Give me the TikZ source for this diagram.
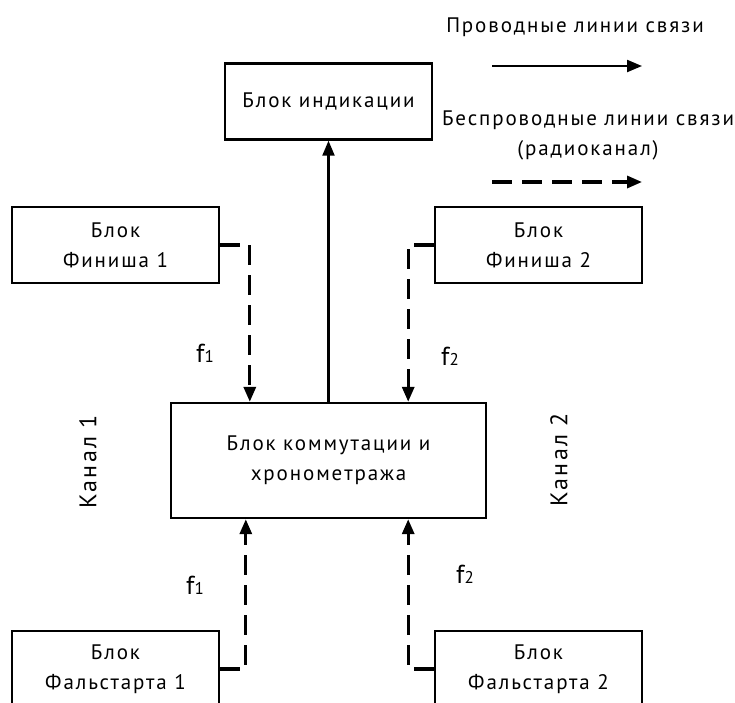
\documentclass[tikz,border=0pt]{standalone}
\usepackage{fontspec}
\setmainfont[LetterSpace=9]{PT Sans}
\usetikzlibrary{arrows.meta}

\newcommand{\freq}[1]{f{\fontsize{17}{17}\selectfont #1}}

\begin{document}
\begin{tikzpicture}[x=1pt, y=-1pt,
    every node/.style={font=\fontsize{21}{30}\selectfont, align=center},
    block/.style={draw, line width=2.4pt, minimum width=207pt, minimum height=76pt},
    wire/.style={line width=2.2pt, -{Triangle[length=15pt, width=12pt]}},
    radio/.style={wire, line width=3.2pt, dash pattern=on 20pt off 10pt},
    chan/.style={rotate=90, font=\fontsize{24}{24}\selectfont},
    flabel/.style={font=\fontsize{26}{26}\selectfont}]

    \useasboundingbox (0, 0) rectangle (735, 702);

    % Blocks
    \node[block] (ind) at (328.5, 101.5) {Блок индикации};
    \node[block] (fin1) at (115.5, 245) {Блок\\Финиша 1};
    \node[block] (fin2) at (538.5, 245) {Блок\\Финиша 2};
    \node[block, minimum width=315pt, minimum height=115pt] (comm) at (328.5, 460.5) {Блок коммутации и\\хронометража};
    \node[block] (fals1) at (115.5, 669) {Блок\\Фальстарта 1};
    \node[block] (fals2) at (538.5, 669) {Блок\\Фальстарта 2};

    % Links
    \draw[wire] (comm.north) -- (ind.south); % wired
    \draw[radio] (fin1.east) -| ([xshift=80pt]comm.north west);
    \draw[radio] (fin2.west) -| ([xshift=-79pt]comm.north east);
    \draw[radio] (fals1.east) -| ([xshift=76pt]comm.south west);
    \draw[radio] (fals2.west) -| ([xshift=-79pt]comm.south east);

    % Frequencies
    \node[flabel] (f1a) at (205, 353) {\freq{1}};
    \node[flabel] (f2a) at (450, 356) {\freq{2}};
    \node[flabel] (f1b) at (195, 585) {\freq{1}};
    \node[flabel] (f2b) at (465, 574) {\freq{2}};

    % Channels
    \node[chan] (chan1) at (88, 462) {Канал 1};
    \node[chan] (chan2) at (559, 460) {Канал 2};

    % Legend
    \node[anchor=base] (wiredTxt) at (575, 32) {Проводные линии связи};
    \coordinate (wiredA) at (492, 66);
    \coordinate (wiredB) at (642, 66);
    \draw[wire] (wiredA) -- (wiredB);
    \node[anchor=base] (radioTxt) at (588, 125) {Беспроводные линии связи};
    \node[anchor=base] (radioSub) at (588, 155) {(радиоканал)};
    \coordinate (radioA) at (492, 182);
    \coordinate (radioB) at (642, 182);
    \draw[radio] (radioA) -- (radioB);

\end{tikzpicture}
\end{document}
